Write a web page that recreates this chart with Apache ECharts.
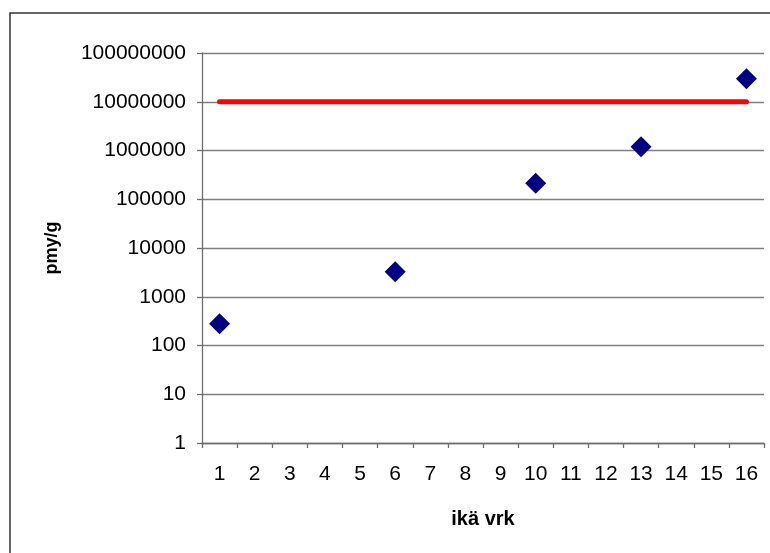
<!DOCTYPE html>
<html>
<head>
<meta charset="utf-8">
<script src="https://cdn.jsdelivr.net/npm/echarts@6/dist/echarts.min.js"></script>
<style>html,body{margin:0;padding:0;background:#fff;}#c{width:770px;height:553px;}</style>
</head>
<body>
<div id="c"></div>
<script>
var categories = ['1','2','3','4','5','6','7','8','9','10','11','12','13','14','15','16'];
var pointDays = ['1','6','10','13','16'];
var pointValues = [280, 3250, 214000, 1200000, 29700000];
var limitDays = ['1','16'];
var limitValues = [10000000, 10000000];
var xTitle = 'ikä vrk';
var yTitle = 'pmy/g';

var chart = echarts.init(document.getElementById('c'));
var font = "Arial, 'Liberation Sans', sans-serif";
chart.setOption({
  animation: false,
  backgroundColor: '#ffffff',
  graphic: [{
    type: 'rect',
    shape: {x: 10, y: 13, width: 900, height: 700},
    style: {fill: 'none', stroke: '#333333', lineWidth: 1.5},
    silent: true
  }],
  grid: {left: 202, right: 6, top: 53, bottom: 110, containLabel: false},
  xAxis: {
    type: 'category',
    data: categories,
    boundaryGap: true,
    name: xTitle,
    nameLocation: 'middle',
    nameGap: 66,
    nameTextStyle: {fontFamily: font, fontSize: 20, fontWeight: 'bold', color: '#000'},
    axisLine: {lineStyle: {color: '#6e6e6e', width: 1.3}},
    axisTick: {show: true, alignWithLabel: false, length: 5, lineStyle: {color: '#6e6e6e', width: 1.3}},
    axisLabel: {fontFamily: font, fontSize: 21, color: '#000', margin: 21, interval: 0},
    splitLine: {show: false}
  },
  yAxis: {
    type: 'log',
    logBase: 10,
    min: 1,
    max: 100000000,
    name: yTitle,
    nameLocation: 'middle',
    nameGap: 141,
    nameRotate: 90,
    nameTextStyle: {fontFamily: font, fontSize: 18, fontWeight: 'bold', color: '#000'},
    axisLine: {show: true, lineStyle: {color: '#6e6e6e', width: 1.3}},
    axisTick: {show: true, length: 5, lineStyle: {color: '#6e6e6e', width: 1.3}},
    axisLabel: {
      fontFamily: font, fontSize: 21, color: '#000', margin: 16,
      formatter: function (v) { return String(Math.round(v)); }
    },
    splitLine: {show: true, lineStyle: {color: '#808080', width: 1.3}}
  },
  series: [
    {
      type: 'line',
      data: limitDays.map(function (d, i) { return [d, limitValues[i]]; }),
      symbol: 'none',
      lineStyle: {color: '#ff0000', width: 5, cap: 'round'},
      z: 2
    },
    {
      type: 'scatter',
      data: pointDays.map(function (d, i) { return [d, pointValues[i]]; }),
      symbol: 'diamond',
      symbolSize: 21,
      itemStyle: {color: '#000080', opacity: 1},
      z: 3
    }
  ]
});
</script>
</body>
</html>
